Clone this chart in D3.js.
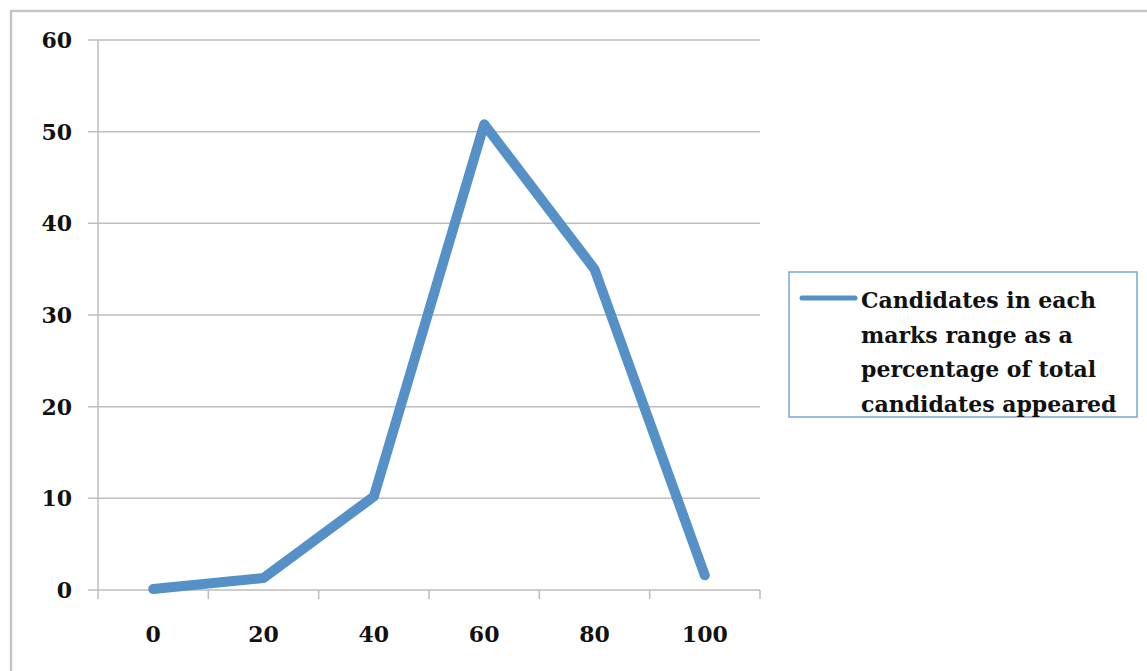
<!DOCTYPE html>
<html>
<head>
<meta charset="utf-8">
<script src="https://cdn.jsdelivr.net/npm/d3@7"></script>
<style>
  body { margin: 0; background: #fff; }
  svg { display: block; }
</style>
</head>
<body>
<svg id="chart" width="1147" height="671"></svg>
<script>
// data
const categories = ["0", "20", "40", "60", "80", "100"];
const values = [0.1, 1.3, 10.2, 50.8, 35, 1.6];
const yTicks = [0, 10, 20, 30, 40, 50, 60];
const seriesName = ["Candidates in each", "marks range as a", "percentage of total", "candidates appeared"];

const font_family = "'DejaVu Serif', serif";
const lineColor = "#5591c7";

const svg = d3.select("#chart");

// outer frame (only top/left visible in the picture)
svg.append("rect")
    .attr("x", 11).attr("y", 11)
    .attr("width", 1160).attr("height", 700)
    .attr("fill", "none")
    .attr("stroke", "#c6c6c6")
    .attr("stroke-width", 2.5);

const plot = { left: 98, right: 760, top: 40, bottom: 590 };

const x = d3.scaleBand()
    .domain(categories)
    .range([plot.left, plot.right])
    .paddingInner(0).paddingOuter(0);

const y = d3.scaleLinear()
    .domain([0, 60])
    .range([plot.bottom, plot.top]);

// gridlines
svg.append("g")
    .selectAll("line")
    .data(yTicks)
    .join("line")
    .attr("x1", plot.left - 10)
    .attr("x2", plot.right)
    .attr("y1", d => y(d))
    .attr("y2", d => y(d))
    .attr("stroke", "#bdbdbd")
    .attr("stroke-width", 1.5);

// y axis line
svg.append("line")
    .attr("x1", plot.left).attr("x2", plot.left)
    .attr("y1", plot.top).attr("y2", plot.bottom)
    .attr("stroke", "#bdbdbd").attr("stroke-width", 1.5);

// y labels
svg.append("g")
    .selectAll("text")
    .data(yTicks)
    .join("text")
    .attr("x", 72)
    .attr("y", d => y(d))
    .attr("dy", "0.36em")
    .attr("text-anchor", "end")
    .style("font-family", font_family)
    .style("font-weight", "bold")
    .style("font-size", "22px")
    .attr("fill", "#111")
    .text(d => d);

// x axis with tick marks between categories
const xBoundaries = categories.map(c => x(c)).concat([x(categories[categories.length - 1]) + x.bandwidth()]);
svg.append("g")
    .selectAll("line")
    .data(xBoundaries)
    .join("line")
    .attr("x1", d => d).attr("x2", d => d)
    .attr("y1", plot.bottom).attr("y2", plot.bottom + 9)
    .attr("stroke", "#bdbdbd").attr("stroke-width", 1.5);

svg.append("g")
    .selectAll("text")
    .data(categories)
    .join("text")
    .attr("x", d => x(d) + x.bandwidth() / 2)
    .attr("y", 642)
    .attr("text-anchor", "middle")
    .style("font-family", font_family)
    .style("font-weight", "bold")
    .style("font-size", "22px")
    .attr("fill", "#111")
    .text(d => d);

// series line
const line = d3.line()
    .x((d, i) => x(categories[i]) + x.bandwidth() / 2)
    .y(d => y(d));

svg.append("path")
    .datum(values)
    .attr("d", line)
    .attr("fill", "none")
    .attr("stroke", lineColor)
    .attr("stroke-width", 10)
    .attr("stroke-linejoin", "round")
    .attr("stroke-linecap", "round");

// legend
const legend = svg.append("g");
legend.append("rect")
    .attr("x", 789).attr("y", 272)
    .attr("width", 348).attr("height", 145)
    .attr("fill", "#fff")
    .attr("stroke", "#7aa6dc")
    .attr("stroke-width", 1.5);

legend.append("line")
    .attr("x1", 802).attr("x2", 855)
    .attr("y1", 298).attr("y2", 298)
    .attr("stroke", lineColor)
    .attr("stroke-width", 5)
    .attr("stroke-linecap", "round");

legend.append("g")
    .selectAll("text")
    .data(seriesName)
    .join("text")
    .attr("x", 861)
    .attr("y", (d, i) => 308 + i * 34.5)
    .style("font-family", font_family)
    .style("font-weight", "bold")
    .style("font-size", "22px")
    .attr("fill", "#111")
    .text(d => d);
</script>
</body>
</html>
